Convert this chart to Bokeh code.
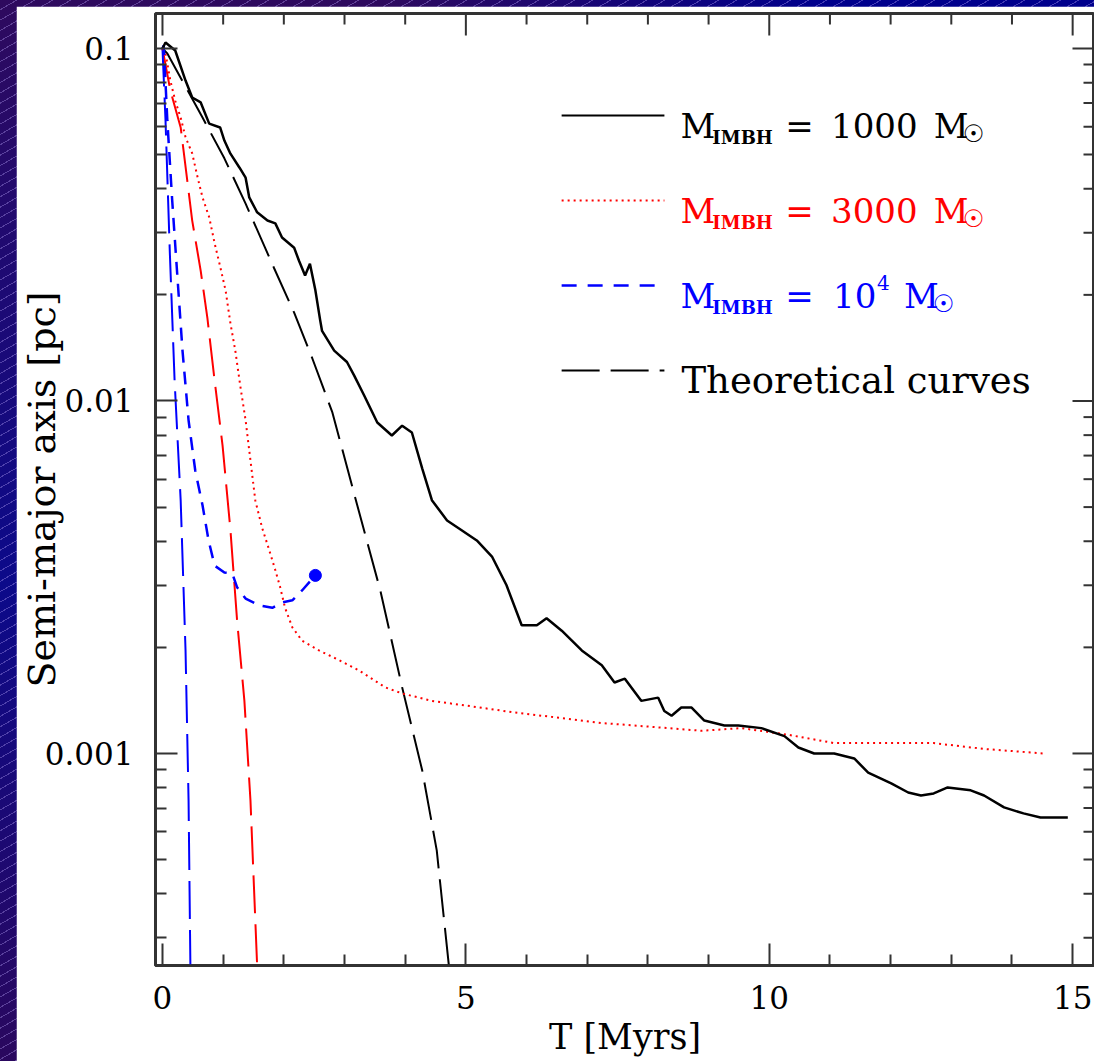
import math
from bokeh.plotting import figure
from bokeh.models import Range1d, FixedTicker, Label, CustomJSTickFormatter
from bokeh.layouts import column
from bokeh.embed import file_html
from bokeh.resources import INLINE

# ---------------- data ----------------
# N-body run, M_IMBH = 1000 Msun (black solid)
t_1000 = [0.00, 0.05, 0.21, 0.38, 0.49, 0.63, 0.77, 0.95, 1.02, 1.12, 1.27, 1.37,
          1.43, 1.56, 1.73, 1.86, 1.97, 2.17, 2.25, 2.35, 2.43, 2.52, 2.60, 2.63,
          2.83, 3.04, 3.16, 3.32, 3.54, 3.78, 3.95, 4.11, 4.28, 4.44, 4.69, 4.93,
          5.18, 5.43, 5.67, 5.92, 6.17, 6.33, 6.58, 6.91, 7.24, 7.45, 7.62, 7.89,
          8.17, 8.27, 8.39, 8.55, 8.72, 8.93, 9.26, 9.49, 9.87, 10.25, 10.48,
          10.74, 11.07, 11.40, 11.63, 12.01, 12.29, 12.50, 12.71, 12.94, 13.32,
          13.54, 13.87, 14.19, 14.47, 14.92]
a_1000 = [0.100, 0.104, 0.0987, 0.0811, 0.0726, 0.0703, 0.0612, 0.0597, 0.0548,
          0.0503, 0.0459, 0.0430, 0.0378, 0.0343, 0.0325, 0.0319, 0.0291, 0.0272,
          0.0250, 0.0227, 0.0245, 0.0206, 0.0169, 0.0158, 0.0139, 0.0129, 0.0118,
          0.0104, 0.00869, 0.00798, 0.00851, 0.00814, 0.00644, 0.00523, 0.00458,
          0.00430, 0.00402, 0.00362, 0.00300, 0.00231, 0.00231, 0.00242, 0.00223,
          0.00196, 0.00178, 0.00159, 0.00163, 0.00141, 0.00144, 0.00132, 0.00128,
          0.00135, 0.00135, 0.00124, 0.00120, 0.00120, 0.00118, 0.00112, 0.00104,
          0.00100, 0.00100, 0.000968, 0.000883, 0.000822, 0.000775, 0.000760,
          0.000770, 0.000801, 0.000786, 0.000760, 0.000703, 0.000676, 0.000658,
          0.000658]

# N-body run, M_IMBH = 3000 Msun (red dotted)
t_3000 = [0.00, 0.05, 0.13, 0.21, 0.30, 0.38, 0.49, 0.58, 0.66, 0.77, 0.86, 0.94,
          1.04, 1.12, 1.20, 1.28, 1.37, 1.45, 1.53, 1.64, 1.76, 1.86, 1.94, 2.02,
          2.14, 2.30, 2.58, 2.91, 3.24, 3.67, 3.95, 4.44, 5.10, 5.76, 6.41, 7.24,
          8.06, 8.88, 9.54, 10.31, 11.07, 11.89, 12.71, 13.54, 14.52]
a_3000 = [0.100, 0.0968, 0.0811, 0.0711, 0.0636, 0.0560, 0.0504, 0.0430, 0.0378,
          0.0332, 0.0280, 0.0245, 0.0206, 0.0166, 0.0139, 0.0111, 0.00881, 0.00678,
          0.00522, 0.00438, 0.00377, 0.00331, 0.00296, 0.00259, 0.00228, 0.00209,
          0.00196, 0.00184, 0.00172, 0.00154, 0.00148, 0.00141, 0.00136, 0.00131,
          0.00127, 0.00122, 0.00119, 0.00116, 0.00118, 0.00113, 0.00107, 0.00107,
          0.00107, 0.00103, 0.00100]

# N-body run, M_IMBH = 1e4 Msun (blue dashed), ends with a dot
t_1e4 = [0.00, 0.02, 0.08, 0.16, 0.25, 0.33, 0.43, 0.54, 0.66, 0.76, 0.86, 1.02,
         1.15, 1.23, 1.37, 1.60, 1.81, 1.97, 2.14, 2.30, 2.52]
a_1e4 = [0.100, 0.102, 0.0625, 0.0371, 0.0220, 0.0139, 0.00881, 0.00635, 0.00506,
         0.00402, 0.00341, 0.00326, 0.00324, 0.00296, 0.00275, 0.00263, 0.00259,
         0.00268, 0.00272, 0.00290, 0.00320]

# Theoretical curves (long dashed)
t_th_1000 = [0.00, 0.08, 0.66, 1.02, 1.37, 1.84, 2.17, 2.47, 2.80, 3.21, 3.59,
             3.95, 4.28, 4.52, 4.72]
a_th_1000 = [0.100, 0.0968, 0.0637, 0.0488, 0.0363, 0.0238, 0.0178, 0.0132,
             0.00928, 0.00506, 0.00290, 0.00154, 0.000896, 0.000531, 0.000250]
t_th_3000 = [0.00, 0.13, 0.30, 0.49, 0.63, 0.74, 0.86, 0.99, 1.12, 1.23, 1.35,
             1.45, 1.56]
a_th_3000 = [0.100, 0.0760, 0.0597, 0.0325, 0.0234, 0.0172, 0.0114, 0.00748,
             0.00430, 0.00238, 0.00141, 0.000736, 0.000250]
t_th_1e4 = [0.00, 0.05, 0.12, 0.20, 0.30, 0.38, 0.43, 0.46]
a_th_1e4 = [0.100, 0.0625, 0.0267, 0.0114, 0.00522, 0.00196, 0.000736, 0.000250]

# ticks
x_ticks = [0, 5, 10, 15]
x_tick_labels = ["0", "5", "10", "15"]
x_minor = [1, 2, 3, 4, 6, 7, 8, 9, 11, 12, 13, 14]
y_ticks = [0.001, 0.01, 0.1]
y_tick_labels = ["0.001", "0.01", "0.1"]
y_minor = [k * 10.0 ** e for e in (-4, -3, -2, -1) for k in range(2, 10)]

# ---------------- layout geometry ----------------
FONT = "DejaVu Serif"
X0, X1 = -0.115, 15.36
Y0, Y1 = 2.503e-4, 0.12568
FL, FR, FT, FB = 153, 1094, 13, 965   # frame edges in window pixels
AX = "#333333"


def dx(px):
    return X0 + (px - FL) / (FR - FL) * (X1 - X0)


def dy(py):
    l1, l0 = math.log10(Y1), math.log10(Y0)
    return 10 ** (l1 - (py - FT) / (FB - FT) * (l1 - l0))


p = figure(width=1078, height=1055, x_range=Range1d(X0, X1),
           y_range=Range1d(Y0, Y1), y_axis_type="log",
           output_backend="svg", toolbar_location=None,
           min_border_left=137, min_border_right=0, min_border_top=7,
           min_border_bottom=96, margin=(6, 0, 0, 16),
           background_fill_color="white", border_fill_color="white",
           outline_line_color=AX, outline_line_width=3)
p.xgrid.visible = False
p.ygrid.visible = False

xticker = FixedTicker(ticks=x_ticks, minor_ticks=x_minor)
yticker = FixedTicker(ticks=y_ticks, minor_ticks=y_minor)
xfmt = CustomJSTickFormatter(args=dict(tv=x_ticks, tl=x_tick_labels), code="""
const i = tv.findIndex(t => Math.abs(t - tick) < 1e-9);
return i >= 0 ? tl[i] : tick.toString();""")
yfmt = CustomJSTickFormatter(args=dict(tv=y_ticks, tl=y_tick_labels), code="""
const i = tv.findIndex(t => Math.abs(Math.log10(t) - Math.log10(tick)) < 1e-6);
return i >= 0 ? tl[i] : tick.toString();""")


def style_axis(ax):
    ax.axis_line_color = AX
    ax.axis_line_width = 2.5
    ax.major_tick_in = 22
    ax.major_tick_out = 0
    ax.minor_tick_in = 11
    ax.minor_tick_out = 0
    ax.major_tick_line_color = AX
    ax.major_tick_line_width = 2
    ax.minor_tick_line_color = AX
    ax.minor_tick_line_width = 2
    ax.major_label_text_font = FONT
    ax.major_label_text_font_size = "31px"
    ax.major_label_text_color = "black"
    ax.axis_label_text_font = FONT
    ax.axis_label_text_font_style = "normal"
    ax.axis_label_text_color = "black"


xa = p.xaxis[0]
xa.ticker = xticker
xa.formatter = xfmt
style_axis(xa)
xa.axis_label = "T [Myrs]"
xa.axis_label_text_font_size = "35px"
xa.major_label_standoff = 20
xa.axis_label_standoff = 5

ya = p.yaxis[0]
ya.ticker = yticker
ya.formatter = yfmt
style_axis(ya)
ya.axis_label = "Semi-major axis [pc]"
ya.axis_label_text_font_size = "38px"
ya.major_label_standoff = 22
ya.axis_label_standoff = -22

# ticks on the top and right frame edges (pointing inward)
p.ray(x=x_ticks, y=[Y1] * len(x_ticks), length=22, length_units="screen",
      angle=-math.pi / 2, line_color=AX, line_width=2)
p.ray(x=x_minor, y=[Y1] * len(x_minor), length=11, length_units="screen",
      angle=-math.pi / 2, line_color=AX, line_width=2)
p.ray(x=[X1] * len(y_ticks), y=y_ticks, length=22, length_units="screen",
      angle=math.pi, line_color=AX, line_width=2)
p.ray(x=[X1] * len(y_minor), y=y_minor, length=11, length_units="screen",
      angle=math.pi, line_color=AX, line_width=2)

TH_DASH = "38 11"
BL_DASH = "13 9"
RD_DOT = "2 4"
# theoretical curves
p.line(t_th_1000, a_th_1000, line_color="black", line_width=2, line_dash=TH_DASH)
p.line(t_th_3000, a_th_3000, line_color="#ff0000", line_width=2, line_dash=TH_DASH)
p.line(t_th_1e4, a_th_1e4, line_color="#0000ff", line_width=2, line_dash=TH_DASH)
# N-body runs
p.line(t_3000, a_3000, line_color="#ff0000", line_width=2, line_dash=RD_DOT)
p.line(t_1e4, a_1e4, line_color="#0000ff", line_width=2.5, line_dash=BL_DASH)
p.scatter([t_1e4[-1]], [a_1e4[-1]], size=12, color="#0000ff")
p.line(t_1000, a_1000, line_color="black", line_width=2.5)

# ---------------- legend (hand built, with subscripts) ----------------
lx0, lx1 = 560, 663
p.line([dx(lx0), dx(lx1)], [dy(115)] * 2, line_color="black", line_width=2)
p.line([dx(lx0), dx(lx1)], [dy(200)] * 2, line_color="#ff0000", line_width=2,
       line_dash=RD_DOT)
p.line([dx(lx0), dx(lx1)], [dy(285)] * 2, line_color="#0000ff", line_width=2.5,
       line_dash="15 11")
p.line([dx(lx0), dx(lx1)], [dy(370)] * 2, line_color="black", line_width=2,
       line_dash=TH_DASH)


def lab(text, px, py, size, color, style="normal", font=FONT):
    p.add_layout(Label(x=dx(px), y=dy(py), text=text, text_font=font,
                       text_font_size=f"{size}px", text_color=color,
                       text_font_style=style, text_align="left",
                       text_baseline="alphabetic"))


rows = [("black", 125, "1000"), ("#ff0000", 210, "3000")]
for color, base, num in rows:
    lab("M", 679, base, 34, color)
    lab("IMBH", 711, base + 12, 18, color, "bold")
    lab("=", 784, base, 34, color)
    lab(num, 830, base, 34, color)
    lab("M", 933, base, 34, color)
    lab("\u2609", 962, base + 8, 24, color, font="DejaVu Sans")

b = 295
lab("M", 679, b, 34, "#0000ff")
lab("IMBH", 711, b + 12, 18, "#0000ff", "bold")
lab("=", 784, b, 34, "#0000ff")
lab("10", 832, b, 34, "#0000ff")
lab("4", 876, b - 13, 20, "#0000ff")
lab("M", 903, b, 34, "#0000ff")
lab("\u2609", 932, b + 8, 24, "#0000ff", font="DejaVu Sans")

lab("Theoretical curves", 680, 380, 37, "black")

bg = ("repeating-linear-gradient(150deg, rgba(0,0,0,0) 0px, rgba(0,0,0,0) 8px, "
      "rgba(190,170,255,0.35) 8px, rgba(190,170,255,0.35) 9px), "
      "linear-gradient(to right, rgba(0,0,140,0) 0%, rgba(0,0,140,0) 35%, #00008c 75%), "
      "linear-gradient(to bottom, #2e0a5e 0%, #0c0a8a 55%, #2a085e 100%)")
page = column(p, width=1094, height=1061, styles={"background": bg})

open("out.html", "w").write(file_html(page, INLINE))
